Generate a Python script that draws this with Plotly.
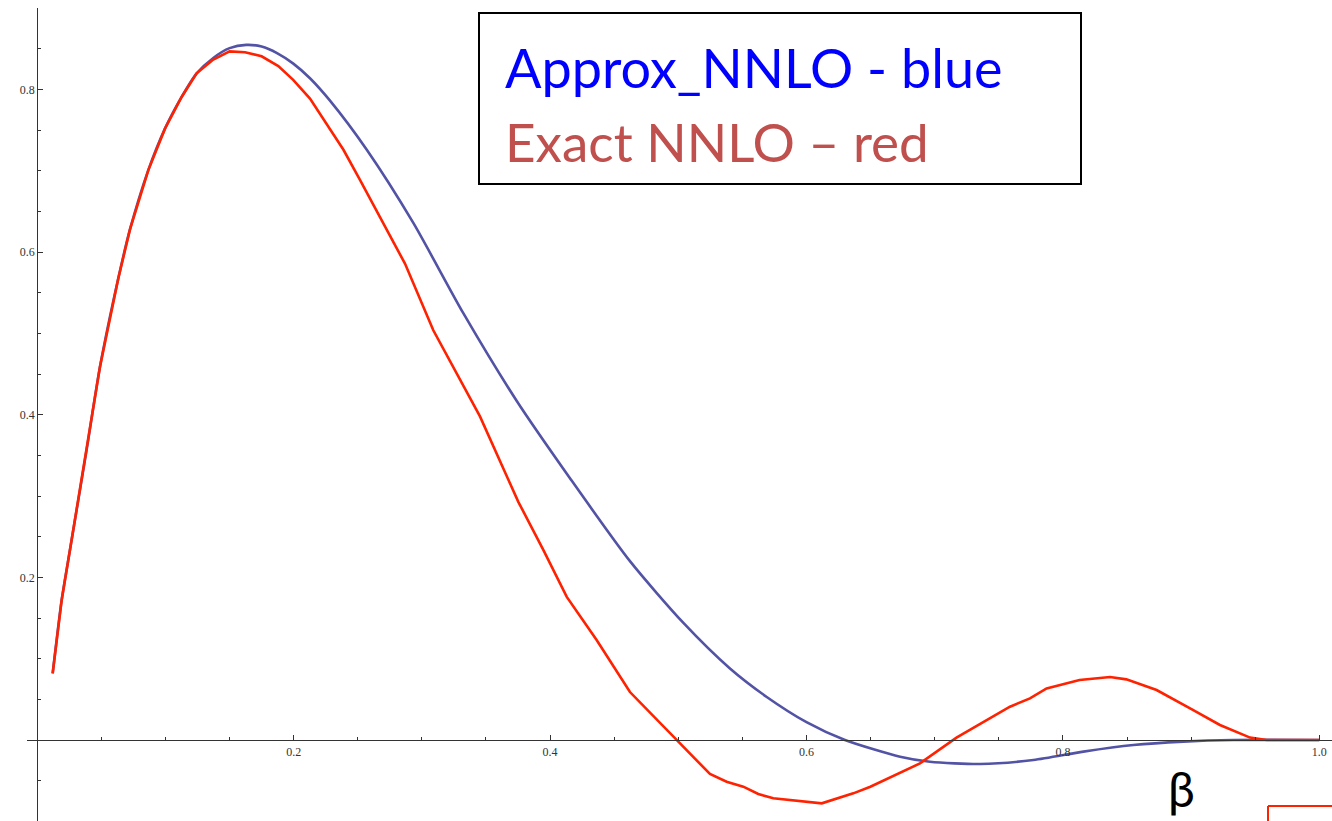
import plotly.graph_objects as go

# ---- data ----
red_beta = [0.012, 0.019, 0.0255, 0.0385, 0.0489, 0.0632, 0.0723, 0.0866, 0.0996, 0.1126,
            0.1243, 0.1373, 0.150, 0.162, 0.175, 0.188, 0.1996, 0.2127, 0.228, 0.2388,
            0.2517, 0.2868, 0.3089, 0.3375, 0.3453, 0.3752, 0.3947, 0.413, 0.4363, 0.4623,
            0.4988, 0.5117, 0.5247, 0.5377, 0.5507, 0.5624, 0.5741, 0.6119, 0.6365, 0.6498,
            0.673, 0.6885, 0.717, 0.7406, 0.7587, 0.7743, 0.7873, 0.813, 0.8368, 0.8495,
            0.8731, 0.9017, 0.9225, 0.946, 0.959, 1.0]
red_vals = [0.082, 0.172, 0.234, 0.357, 0.459, 0.568, 0.628, 0.701, 0.752, 0.791,
            0.820, 0.837, 0.847, 0.846, 0.841, 0.829, 0.812, 0.789, 0.752, 0.726,
            0.689, 0.586, 0.504, 0.420, 0.398, 0.293, 0.234, 0.176, 0.123, 0.059,
            0.0, -0.0205, -0.0418, -0.0513, -0.0574, -0.0664, -0.0717, -0.0779, -0.0656, -0.0574,
            -0.040, -0.0287, 0.003, 0.0246, 0.041, 0.0512, 0.0635, 0.0738, 0.0775, 0.0746,
            0.0615, 0.0369, 0.0185, 0.003, 0.0, 0.0]

blue_beta = [0.012, 0.019, 0.0255, 0.0385, 0.0489, 0.0632, 0.0723, 0.0866, 0.0996, 0.1126,
             0.1243, 0.1373, 0.150, 0.163, 0.175, 0.187, 0.1997, 0.2127, 0.228, 0.257,
             0.2933, 0.3323, 0.374, 0.4155, 0.4623, 0.504, 0.5403, 0.569, 0.600, 0.630,
             0.673, 0.6963, 0.7355, 0.777, 0.816, 0.855, 0.894, 0.933, 1.0]
blue_vals = [0.082, 0.172, 0.234, 0.357, 0.459, 0.568, 0.628, 0.701, 0.752, 0.791,
             0.820, 0.839, 0.851, 0.855, 0.853, 0.845, 0.832, 0.814, 0.787, 0.726,
             0.636, 0.525, 0.417, 0.322, 0.220, 0.144, 0.088, 0.053, 0.022, 0.0,
             -0.0205, -0.0267, -0.0295, -0.0246, -0.0143, -0.0062, -0.002, 0.0, 0.0]

x_tickvals = [0.2, 0.4, 0.6, 0.8, 1.0]
x_ticktext = ["0.2", "0.4", "0.6", "0.8", "1.0"]
y_tickvals = [0.2, 0.4, 0.6, 0.8]
y_ticktext = ["0.2", "0.4", "0.6", "0.8"]

legend_lines = ["Approx_NNLO - blue", "Exact NNLO \u2013 red"]
axis_label = "\u03b2"

W, H = 1332, 821

fig = go.Figure()
fig.add_trace(go.Scatter(x=blue_beta, y=blue_vals, mode="lines",
                         line=dict(color="#5353A6", width=2.6, shape="spline", smoothing=0.7),
                         hoverinfo="skip"))
fig.add_trace(go.Scatter(x=red_beta, y=red_vals, mode="lines",
                         line=dict(color="#FF2200", width=2.6),
                         hoverinfo="skip"))

tick_font = dict(family="Liberation Serif", size=12, color="#333333")

fig.update_layout(
    width=W, height=H,
    margin=dict(l=0, r=0, t=0, b=0),
    paper_bgcolor="white", plot_bgcolor="white",
    showlegend=False,
    xaxis=dict(domain=[27 / W, 1.0], range=[-0.00803, 1.00991],
               anchor="free", position=1 - 740 / H,
               showgrid=False, zeroline=False, showline=True, linecolor="#333333", linewidth=1.3,
               tickmode="array", tickvals=x_tickvals, ticktext=x_ticktext,
               ticks="inside", ticklen=5, tickwidth=1, tickcolor="#333333",
               minor=dict(dtick=0.05, tick0=0, ticks="inside", ticklen=3, tickwidth=1, tickcolor="#333333"),
               tickfont=tick_font, fixedrange=True),
    yaxis=dict(domain=[0.0, 1 - 8 / H], range=[-0.0996, 0.9004],
               anchor="free", position=37.3 / W,
               showgrid=False, zeroline=False, showline=True, linecolor="#333333", linewidth=1.3,
               tickmode="array", tickvals=y_tickvals, ticktext=y_ticktext,
               ticks="inside", ticklen=5, tickwidth=1, tickcolor="#333333",
               minor=dict(dtick=0.05, tick0=0, ticks="inside", ticklen=3, tickwidth=1, tickcolor="#333333"),
               tickfont=tick_font, fixedrange=True),
)

def px(x):
    return x / W

def py(y):
    return 1 - y / H

# legend-like box
fig.add_shape(type="rect", xref="paper", yref="paper",
              x0=px(479), x1=px(1081), y0=py(184), y1=py(13),
              line=dict(color="black", width=2), fillcolor="rgba(0,0,0,0)")
fig.add_annotation(xref="paper", yref="paper", x=px(503), y=py(67), text=legend_lines[0],
                   showarrow=False, xanchor="left", yanchor="middle",
                   font=dict(family="Lato", size=54, color="#0000FF"))
fig.add_annotation(xref="paper", yref="paper", x=px(503), y=py(141), text=legend_lines[1],
                   showarrow=False, xanchor="left", yanchor="middle",
                   font=dict(family="Lato", size=53, color="#C0504D"))

# beta label
fig.add_annotation(xref="paper", yref="paper", x=px(1181), y=py(788), text=axis_label,
                   showarrow=False, xanchor="center", yanchor="middle",
                   font=dict(family="Lato", size=48, color="black"))

# red corner of a box at bottom right
fig.add_shape(type="line", xref="paper", yref="paper", x0=px(1268), x1=px(1332), y0=py(806), y1=py(806),
              line=dict(color="#FF2200", width=2))
fig.add_shape(type="line", xref="paper", yref="paper", x0=px(1268), x1=px(1268), y0=py(806), y1=py(821),
              line=dict(color="#FF2200", width=2))

fig.write_html("out.html", config={"displayModeBar": False},
               post_script="document.body.style.margin='0px';")
